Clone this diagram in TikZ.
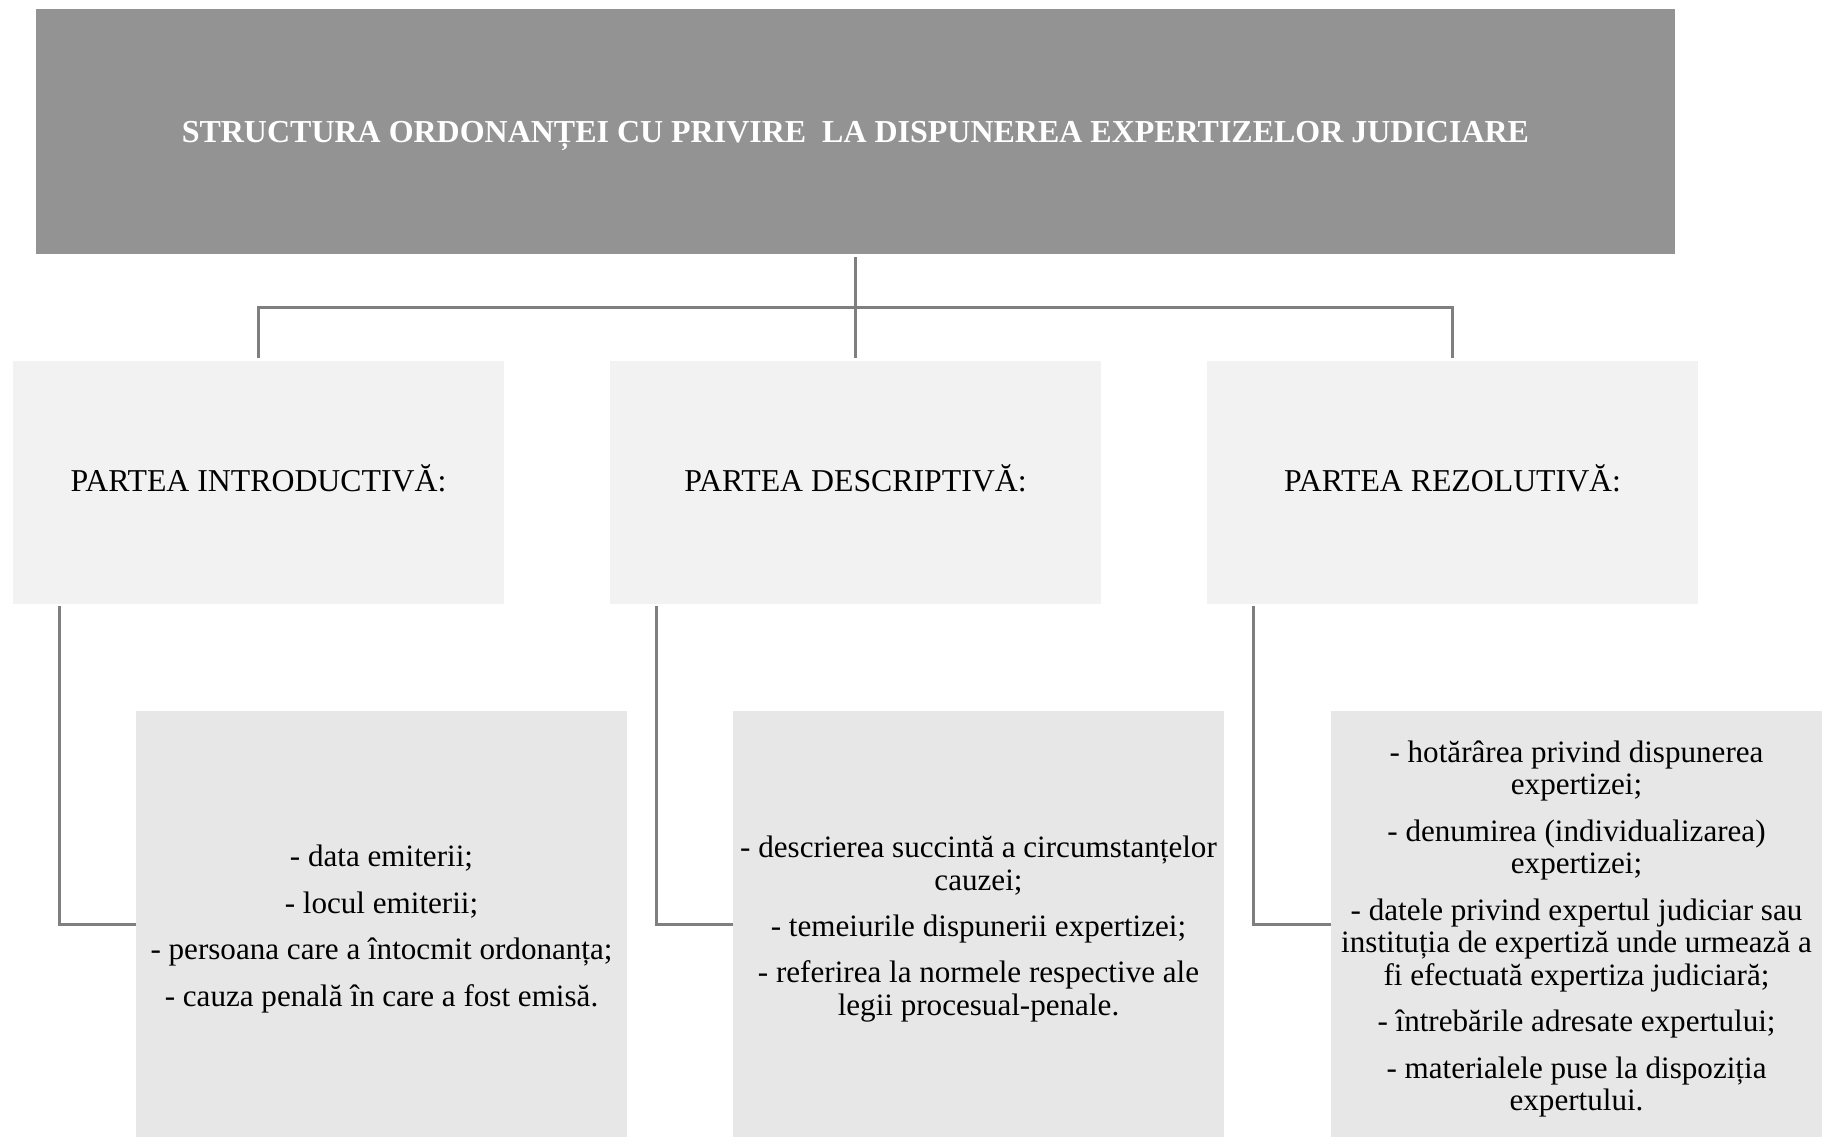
\documentclass[tikz,border=0pt]{standalone}
\usepackage{fontspec}
\setmainfont{Liberation Serif}
\usepackage{tikz}
\usepackage{xcolor}
\definecolor{headgray}{RGB}{147,147,147}
\definecolor{partgray}{RGB}{242,242,242}
\definecolor{listgray}{RGB}{231,231,231}
\definecolor{linkgray}{RGB}{127,127,127}

\begin{document}
\begin{tikzpicture}[x=0.02cm,y=0.02cm,
  every node/.style={font=\fontsize{18.1}{19}\selectfont},
  head/.style={fill=headgray,text=white,font=\fontsize{18.2}{19}\selectfont\bfseries,
    minimum width=32.78cm,minimum height=4.9cm,inner sep=0pt,text height=13pt,text depth=1pt},
  part/.style={fill=partgray,minimum width=9.82cm,minimum height=4.86cm,inner sep=0pt,
    text height=13pt,text depth=2.4pt},
  items/.style={fill=listgray,minimum width=9.82cm,minimum height=8.52cm,inner sep=0pt,
    text width=9.82cm,align=flush center,font=\fontsize{17.7}{18.6}\selectfont,
    execute at begin node={\rule{0pt}{18pt}}},
  link/.style={draw=linkgray,line width=1.7pt}]
\useasboundingbox (0,0) rectangle (1824,-1137);
% title
\node[head] (top) at (855.5,-131.5)
  {STRUCTURA ORDONANȚEI CU PRIVIRE\ \ LA DISPUNEREA EXPERTIZELOR JUDICIARE};
% the three parts
\node[part] (intro) at (258.5,-482.5) {PARTEA INTRODUCTIVĂ:};
\node[part] (descr) at (855.5,-482.5) {PARTEA DESCRIPTIVĂ:};
\node[part] (rezol) at (1452.5,-482.5) {PARTEA REZOLUTIVĂ:};
% contents of each part
\node[items] (introlist) at (381.5,-924) {- data emiterii;\\[7.8pt]
  - locul emiterii;\\[7.8pt]
  - persoana care a întocmit ordonanța;\\[7.8pt]
  - cauza penală în care a fost emisă.};
\node[items] (descrlist) at (978.5,-924) {- descrierea succintă a circumstanțelor cauzei;\\[7.8pt]
  - temeiurile dispunerii expertizei;\\[7.8pt]
  - referirea la normele respective ale legii procesual-penale.};
\node[items] (rezollist) at (1576.5,-924) {- hotărârea privind dispunerea expertizei;\\[7.8pt]
  - denumirea (individualizarea) expertizei;\\[7.8pt]
  - datele privind expertul judiciar sau instituția de expertiză unde urmează a fi efectuată expertiza judiciară;\\[7.8pt]
  - întrebările adresate expertului;\\[7.8pt]
  - materialele puse la dispoziția expertului.};
% connectors
\coordinate (fork) at (855.5,-307);
\draw[link] ([yshift=-0.06cm]top.south) -- ([yshift=0.06cm]descr.north);
\draw[link] ([yshift=0.06cm]intro.north) |- (fork) -| ([yshift=0.06cm]rezol.north);
\draw[link] ([xshift=0.94cm,yshift=-0.04cm]intro.south west) |- (introlist.west);
\draw[link] ([xshift=0.94cm,yshift=-0.04cm]descr.south west) |- (descrlist.west);
\draw[link] ([xshift=0.94cm,yshift=-0.04cm]rezol.south west) |- (rezollist.west);
\end{tikzpicture}
\end{document}
